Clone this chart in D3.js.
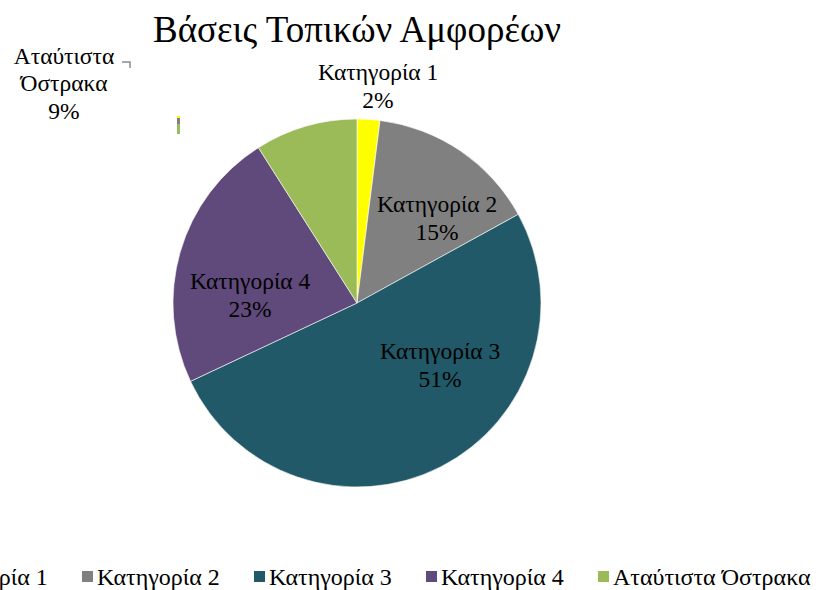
<!DOCTYPE html>
<html>
<head>
<meta charset="utf-8">
<script src="https://cdn.jsdelivr.net/npm/d3@7"></script>
<style>
  body { margin: 0; background: #fff; }
  svg { display: block; font-family: "Liberation Serif", "DejaVu Serif", serif; }
</style>
</head>
<body>
<div id="chart"></div>
<script>
const categories = ["Κατηγορία 1", "Κατηγορία 2", "Κατηγορία 3", "Κατηγορία 4", "Αταύτιστα Όστρακα"];
const values = [2, 15, 51, 23, 9];
const colors = ["#FFFF00", "#808080", "#215968", "#604A7B", "#9BBB59"];
// label lines as Excel wrapped them
const labelLines = [["Κατηγορία 1"], ["Κατηγορία 2"], ["Κατηγορία 3"], ["Κατηγορία 4"], ["Αταύτιστα", "Όστρακα"]];
// label centre offsets from pie centre (best-fit placement)
const labelOffsets = [[21, -217], [80, -85], [83, 62], [-107, -8], [-293, -220]];

const width = 816;
const height = 590;
const cx = 357, cy = 303, radius = 184;

const data = categories.map((c, i) => ({ cat: c, value: values[i], lines: labelLines[i], off: labelOffsets[i] }));
const total = d3.sum(values);

const svg = d3.select("#chart")
    .append("svg")
    .attr("width", width)
    .attr("height", height)

const color = d3.scaleOrdinal()
    .domain(categories)
    .range(colors)

svg.append("text")
    .attr("x", cx)
    .attr("y", 42)
    .attr("text-anchor", "middle")
    .style("font-size", "37px")
    .text("Βάσεις Τοπικών Αμφορέων")

const pie = d3.pie()
    .value(d => d.value)
    .sort(null)

const arc = d3.arc()
    .innerRadius(0)
    .outerRadius(radius)

const g = svg.append("g")
    .attr("transform", `translate(${cx},${cy})`)

g.selectAll("path")
    .data(pie(data))
    .join("path")
    .attr("d", arc)
    .attr("fill", d => color(d.data.cat))
    .attr("stroke", "#fff")
    .attr("stroke-width", 0.6)

// data labels
const labels = g.selectAll("g.label")
    .data(data)
    .join("g")
    .attr("class", "label")
    .attr("transform", d => `translate(${d.off[0]},${d.off[1]})`)

labels.each(function(d) {
    const lines = d.lines.concat([d3.format(".0%")(d.value / total)]);
    const n = lines.length;
    d3.select(this).selectAll("text")
        .data(lines)
        .join("text")
        .attr("text-anchor", "middle")
        .attr("y", (l, i) => (i - (n - 1) / 2) * 27.5 + 8)
        .style("font-size", "23.5px")
        .text(l => l)
})

// leader line for the last label
svg.append("path")
    .attr("d", `M${cx - 235},${cy - 241} h8 v6`)
    .attr("fill", "none")
    .attr("stroke", "#8c8c8c")
    .attr("stroke-width", 1.5)

// tiny stacked stub left by the chart tool (green, grey, yellow from bottom)
const stubY = d3.scaleLinear().domain([0, 1]).range([134, 116]);
const stubParts = [[4, 0.55], [1, 0.35], [0, 0.1]];
let acc = 0;
stubParts.forEach(([ci, v]) => {
    svg.append("rect")
        .attr("x", 177)
        .attr("y", stubY(acc + v))
        .attr("width", 3)
        .attr("height", stubY(acc) - stubY(acc + v))
        .attr("fill", colors[ci])
    acc += v;
})

// legend
const legendX = d3.scalePoint()
    .domain(categories)
    .range([-90, 598])

const legend = svg.selectAll("g.legend")
    .data(categories)
    .join("g")
    .attr("class", "legend")
    .attr("transform", d => `translate(${legendX(d)},571)`)

legend.append("rect")
    .attr("width", 11)
    .attr("height", 11)
    .attr("fill", d => color(d))

legend.append("text")
    .attr("x", 15)
    .attr("y", 14)
    .style("font-size", "24px")
    .text(d => d)
</script>
</body>
</html>
